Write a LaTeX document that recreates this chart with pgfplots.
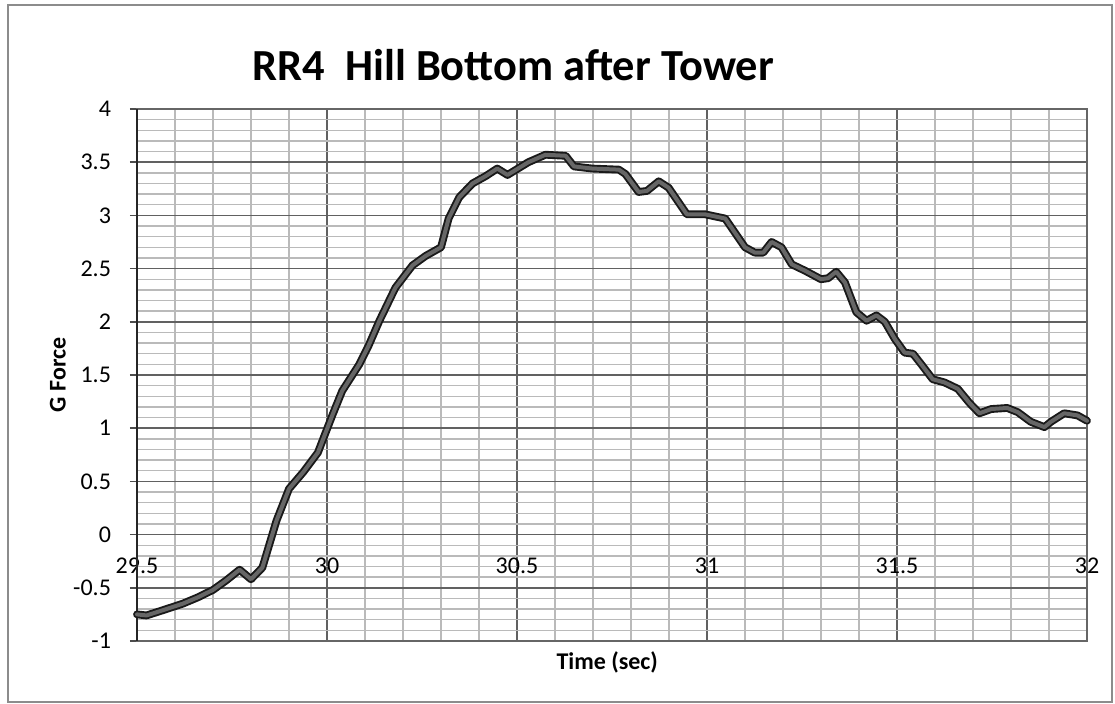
\documentclass[border=0pt]{standalone}
\usepackage{pgfplots}
\pgfplotsset{compat=1.18}
\usepackage{pgfplotstable}
\usepackage{fontspec}
\setmainfont{Carlito}
\pgfplotstableread{
x y
29.500 -0.75
29.525 -0.76
29.560 -0.72
29.620 -0.65
29.660 -0.59
29.700 -0.52
29.735 -0.43
29.770 -0.33
29.800 -0.42
29.830 -0.31
29.867 0.13
29.900 0.43
29.937 0.585
29.976 0.77
30.015 1.13
30.040 1.35
30.085 1.60
30.110 1.78
30.138 2.01
30.180 2.32
30.225 2.53
30.260 2.62
30.300 2.70
30.320 2.97
30.348 3.17
30.383 3.30
30.418 3.37
30.448 3.44
30.475 3.38
30.530 3.50
30.575 3.57
30.628 3.56
30.650 3.46
30.698 3.44
30.768 3.43
30.785 3.39
30.820 3.22
30.842 3.23
30.873 3.32
30.899 3.26
30.947 3.01
30.995 3.01
31.048 2.97
31.100 2.70
31.126 2.65
31.148 2.65
31.170 2.75
31.196 2.70
31.223 2.54
31.258 2.48
31.300 2.40
31.319 2.41
31.340 2.47
31.363 2.37
31.393 2.09
31.420 2.01
31.446 2.06
31.468 2.00
31.494 1.84
31.520 1.71
31.542 1.70
31.564 1.60
31.594 1.46
31.625 1.43
31.660 1.37
31.690 1.24
31.717 1.14
31.748 1.18
31.790 1.19
31.818 1.15
31.852 1.06
31.888 1.01
31.905 1.06
31.940 1.14
31.975 1.12
32.000 1.07
}\gforce
\begin{document}
\begin{tikzpicture}
\path[use as bounding box] (0,0) rectangle (557.5pt,352pt);
\fill[white] (0,0) rectangle (557.5pt,352pt);
\draw[black!45, line width=0.9pt] (4pt,0.9pt) rectangle (555.8pt,349.5pt);
\begin{axis}[
  at={(68.5pt,31.5pt)}, anchor=south west,
  scale only axis, width=475pt, height=266pt,
  xmin=29.5, xmax=32, ymin=-1, ymax=4,
  xtick={29.5,30,30.5,31,31.5,32},
  ytick={-1,-0.5,0,0.5,1,1.5,2,2.5,3,3.5,4},
  minor x tick num=4, minor y tick num=4,
  grid=both,
  major grid style={draw=black!62, line width=0.8pt},
  minor grid style={draw=black!27, line width=0.7pt},
  axis line style={draw=black!60, line width=0.8pt},
  x axis line style={draw=none},
  tick align=outside, ytick pos=left, xtick pos=bottom,
  major tick length=3.5pt, minor tick length=0pt,
  xtick style={draw=none},
  ytick style={draw=black!70, line width=0.8pt},
  /pgf/number format/assume math mode=true,
  /pgf/number format/1000 sep={},
  tick label style={font=\fontsize{12}{14}\selectfont},
  xticklabel style={yshift=48.5pt},
  yticklabel style={xshift=-6pt},
  title={\textbf{RR4\ \ Hill Bottom after Tower}},
  title style={at={(axis description cs:0.396,1.060)}, anchor=center, font=\fontsize{22.2}{26}\selectfont},
  xlabel={\textbf{Time (sec)}},
  xlabel style={at={(axis description cs:0.495,-0.0395)}, anchor=center, font=\fontsize{12}{14}\selectfont},
  ylabel={\textbf{G Force}},
  ylabel style={at={(axis description cs:-0.0832,0.5)}, anchor=center, font=\fontsize{12}{14}\selectfont},
  clip=false,
]
\draw[black!85, line width=1.2pt] (axis cs:29.5,-1) -- (axis cs:29.5,4);
\addplot[black!90, line width=3.9pt, line join=round, line cap=round] table[x=x,y=y] {\gforce};
\addplot[black!60, line width=2.0pt, line join=round, line cap=round] table[x=x,y=y] {\gforce};
\end{axis}
\end{tikzpicture}
\end{document}
